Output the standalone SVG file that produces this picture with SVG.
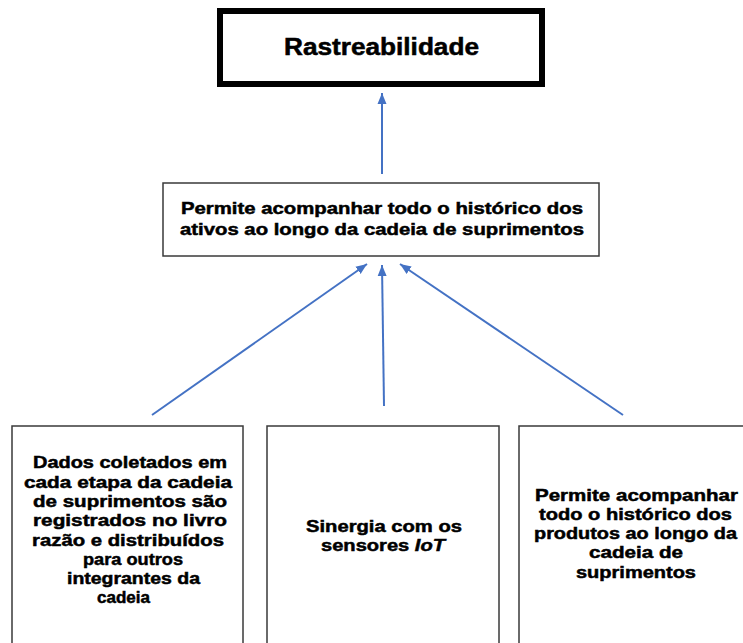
<svg xmlns="http://www.w3.org/2000/svg" width="743" height="643" viewBox="0 0 743 643">
<style>
.t{font-family:"Liberation Sans",Arial,sans-serif;font-weight:bold;fill:#000;stroke:#000;stroke-width:0.5;text-anchor:middle}
.box{fill:#fff;stroke:#3a3a3a;stroke-width:1.5}
.conn{stroke:#4472C4;stroke-width:2;fill:none;marker-end:url(#ah)}
</style>
<defs>
<marker id="ah" markerUnits="userSpaceOnUse" markerWidth="12" markerHeight="12" viewBox="0 0 12 12" refX="11" refY="6" orient="auto">
<path d="M0,1.5 L11,6 L0,10.5 Z" fill="#4472C4"/>
</marker>
</defs>
<rect width="743" height="643" fill="#fff"/>
<g id="connectors">
<line class="conn" x1="382" y1="174" x2="382" y2="93"/>
<line class="conn" x1="152" y1="415" x2="367" y2="264"/>
<line class="conn" x1="384" y1="406" x2="382" y2="265"/>
<line class="conn" x1="623" y1="415" x2="400" y2="264"/>
</g>
<g id="rastreabilidade">
<rect x="220" y="11" width="322" height="73" fill="#fff" stroke="#000" stroke-width="6"/>
<text class="t" x="381.5" y="54.5" font-size="23" stroke-width="0.7" textLength="195" lengthAdjust="spacingAndGlyphs">Rastreabilidade</text>
</g>
<g id="permite-ativos">
<rect class="box" x="163" y="183" width="436" height="73"/>
<text class="t" x="382" y="214" font-size="17" textLength="402" lengthAdjust="spacingAndGlyphs">Permite acompanhar todo o histórico dos</text>
<text class="t" x="382" y="234.5" font-size="17" textLength="404" lengthAdjust="spacingAndGlyphs">ativos ao longo da cadeia de suprimentos</text>
</g>
<g id="dados-coletados">
<rect class="box" x="12" y="426" width="231" height="230"/>
<text class="t" x="130" y="468" font-size="17" textLength="194" lengthAdjust="spacingAndGlyphs">Dados coletados em</text>
<text class="t" x="128" y="487.5" font-size="17" textLength="208" lengthAdjust="spacingAndGlyphs">cada etapa da cadeia</text>
<text class="t" x="130" y="507" font-size="17" textLength="194" lengthAdjust="spacingAndGlyphs">de suprimentos são</text>
<text class="t" x="130" y="526" font-size="17" textLength="194" lengthAdjust="spacingAndGlyphs">registrados no livro</text>
<text class="t" x="128" y="545.5" font-size="17" textLength="192" lengthAdjust="spacingAndGlyphs">razão e distribuídos</text>
<text class="t" x="133" y="564.5" font-size="17" textLength="100" lengthAdjust="spacingAndGlyphs">para outros</text>
<text class="t" x="133.5" y="584" font-size="17" textLength="133" lengthAdjust="spacingAndGlyphs">integrantes da</text>
<text class="t" x="123.5" y="603" font-size="17" textLength="53" lengthAdjust="spacingAndGlyphs">cadeia</text>
</g>
<g id="sinergia-iot">
<rect class="box" x="267" y="426" width="232" height="230"/>
<text class="t" x="384" y="531.5" font-size="17" textLength="156" lengthAdjust="spacingAndGlyphs">Sinergia com os</text>
<text class="t" x="383" y="550.5" font-size="17" textLength="124" lengthAdjust="spacingAndGlyphs">sensores <tspan font-style="italic">IoT</tspan></text>
</g>
<g id="permite-produtos">
<rect class="box" x="519" y="426" width="240" height="230"/>
<text class="t" x="636.5" y="500.5" font-size="17" textLength="203" lengthAdjust="spacingAndGlyphs">Permite acompanhar</text>
<text class="t" x="635.5" y="519.5" font-size="17" textLength="193" lengthAdjust="spacingAndGlyphs">todo o histórico dos</text>
<text class="t" x="635.5" y="539" font-size="17" textLength="203" lengthAdjust="spacingAndGlyphs">produtos ao longo da</text>
<text class="t" x="636" y="558" font-size="17" textLength="94" lengthAdjust="spacingAndGlyphs">cadeia de</text>
<text class="t" x="636" y="577.5" font-size="17" textLength="120" lengthAdjust="spacingAndGlyphs">suprimentos</text>
</g>
</svg>
